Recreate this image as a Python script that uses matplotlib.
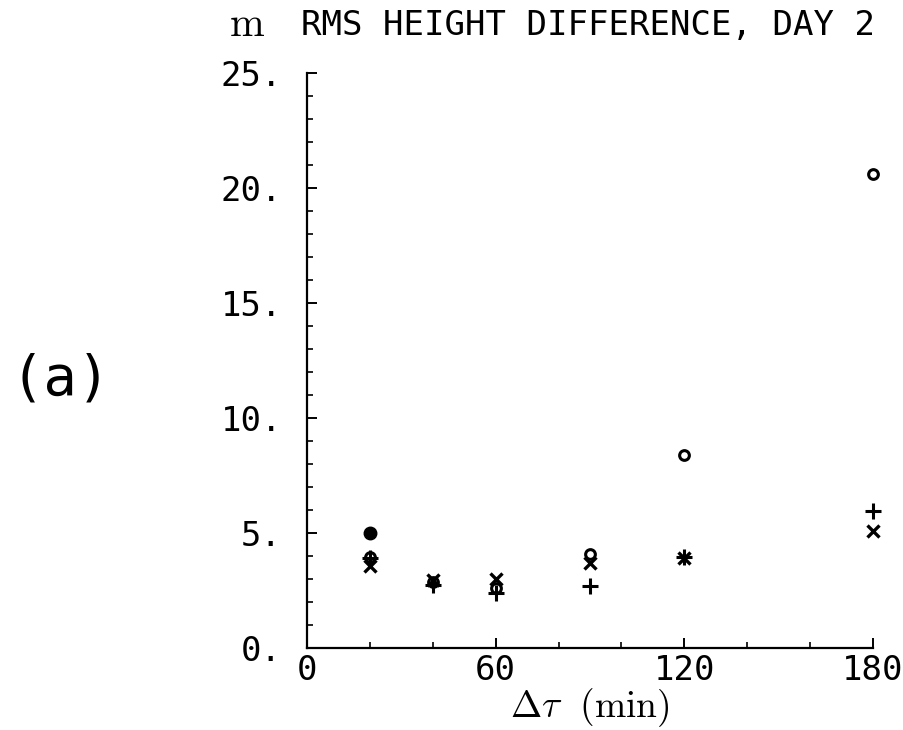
import matplotlib
matplotlib.use('Agg')
import matplotlib.pyplot as plt
from matplotlib.ticker import MultipleLocator

# --- Data (RMS height difference, day 2)
dt_min = [20, 40, 60, 90, 120, 180]
rms_o = [3.95, 2.85, 2.6, 4.1, 8.4, 20.6]
rms_plus = [3.9, 2.75, 2.4, 2.7, 3.95, 5.95]
rms_x = [3.55, 2.95, 3.0, 3.7, 3.9, 5.1]
dot_t = [20]
dot_rms = [5.02]

x_ticks = [0, 60, 120, 180]
x_labels = ['0', '60', '120', '180']
y_ticks = [0, 5, 10, 15, 20, 25]
y_labels = ['0.', '5.', '10.', '15.', '20.', '25.']

mono = 'DejaVu Sans Mono'
plt.rcParams['mathtext.fontset'] = 'cm'

fig = plt.figure(figsize=(9.04, 7.30), dpi=100)
ax = fig.add_axes([307 / 904, 1 - 648 / 730, (873 - 307) / 904, (648 - 73) / 730])

ax.plot(dt_min, rms_o, linestyle='none', marker='o', ms=7, mfc='none',
        mec='black', mew=2.2, clip_on=False)
ax.plot(dt_min, rms_plus, linestyle='none', marker='+', ms=12, mec='black',
        mew=2.2, clip_on=False)
ax.plot(dt_min, rms_x, linestyle='none', marker='x', ms=8, mec='black',
        mew=2.4, clip_on=False)
ax.plot(dot_t, dot_rms, linestyle='none', marker='o', ms=9, color='black')

ax.set_xlim(0, 180)
ax.set_ylim(0, 25)
ax.spines['top'].set_visible(False)
ax.spines['right'].set_visible(False)
for s in ('left', 'bottom'):
    ax.spines[s].set_linewidth(1.6)

ax.set_xticks(x_ticks)
ax.set_xticklabels(x_labels, fontfamily=mono, fontsize=24.5)
ax.xaxis.set_minor_locator(MultipleLocator(20))
ax.set_yticks(y_ticks)
ax.set_yticklabels(y_labels, fontfamily=mono, fontsize=24.5)
ax.yaxis.set_minor_locator(MultipleLocator(1))

ax.tick_params(axis='both', which='major', direction='in', length=7, width=1.4)
ax.tick_params(axis='both', which='minor', direction='in', length=4, width=1.2)
ax.tick_params(axis='x', which='major', pad=4)
ax.tick_params(axis='y', which='major', pad=18)

ax.set_xlabel(r'$\Delta\tau\ \ \mathrm{(min)}$', fontsize=27, labelpad=0)

fig.text(247 / 904, 1 - 24 / 730, r'$\mathrm{m}$', fontsize=30,
         ha='center', va='center')
fig.text(588 / 904, 1 - 25 / 730, 'RMS HEIGHT DIFFERENCE, DAY 2',
         fontfamily=mono, fontsize=24.5, ha='center', va='center')
fig.text(61 / 904, 1 - 380 / 730, '(a)', fontfamily=mono, fontsize=40,
         ha='center', va='center')

fig.savefig('out.png', dpi=100)
